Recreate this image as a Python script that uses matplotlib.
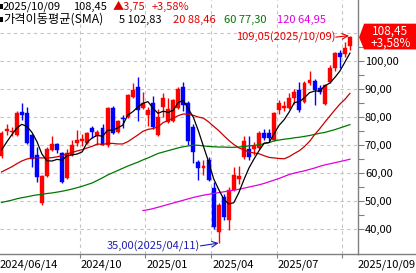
import matplotlib
matplotlib.use('Agg')
import matplotlib.pyplot as plt
from matplotlib.patches import Rectangle, Polygon
from matplotlib.lines import Line2D
import matplotlib.transforms as mtransforms
import numpy as np
import pandas as pd

plt.rcParams['font.family'] = ['Noto Sans CJK KR', 'DejaVu Sans']

# Weekly candles, 2024/06/14 .. 2025/10/09
opens = [66.1, 75.0, 74.5, 73.6, 81.8, 81.4, 73.6, 66.4, 49.3, 58.9,
         68.2, 70.4, 67.1, 58.2, 66.4, 70.7, 71.4, 70.7, 76.1, 73.2,
         76.1, 70.0, 83.2, 74.6, 79.6, 80.0, 87.1, 90.7, 83.2, 80.7,
         85.0, 73.6, 83.6, 78.2, 78.6, 83.2, 90.7, 85.0, 76.4, 63.9,
         61.8, 64.6, 54.6, 38.9, 51.4, 43.2, 53.9, 57.9, 65.7, 68.6,
         68.6, 68.9, 74.3, 74.3, 71.8, 82.5, 83.4, 83.2, 86.8, 89.6,
         85.4, 92.1, 92.9, 90.4, 84.6, 92.5, 97.5, 102.9, 102.5, 105.5]
highs = [75.0, 77.5, 76.5, 82.2, 85.0, 83.5, 74.0, 69.3, 59.2, 69.3,
         73.2, 70.6, 67.5, 68.5, 71.8, 75.4, 73.9, 74.6, 76.8, 75.4,
         77.5, 83.5, 83.9, 79.0, 80.7, 88.2, 92.1, 94.3, 88.9, 83.5,
         87.5, 82.9, 88.6, 86.8, 86.4, 90.7, 92.5, 85.7, 77.5, 64.6,
         64.6, 65.7, 56.8, 49.3, 52.5, 55.0, 62.1, 62.5, 73.2, 73.2,
         71.0, 75.0, 75.7, 75.7, 81.8, 86.1, 85.7, 88.6, 90.0, 92.5,
         92.9, 96.4, 93.6, 91.4, 91.8, 98.6, 103.2, 104.0, 106.8, 109.05]
lows = [65.5, 73.5, 73.2, 73.2, 78.9, 70.4, 62.1, 56.8, 48.6, 58.5,
        68.0, 67.1, 56.5, 58.0, 66.0, 69.6, 69.6, 70.4, 72.5, 70.0,
        70.0, 69.3, 74.0, 74.3, 76.1, 79.6, 86.8, 78.6, 82.9, 76.8,
        75.7, 73.2, 80.0, 78.0, 78.2, 82.9, 82.0, 70.0, 63.6, 57.5,
        59.3, 57.1, 40.0, 35.0, 43.2, 39.6, 53.6, 56.0, 65.0, 64.6,
        66.4, 68.6, 71.8, 71.4, 71.4, 81.1, 82.2, 82.9, 84.6, 81.8,
        85.0, 91.4, 84.3, 88.2, 84.3, 92.1, 96.4, 97.5, 101.4, 104.0]
closes = [74.3, 75.6, 75.2, 81.4, 80.7, 70.7, 65.0, 58.6, 58.9, 68.6,
          70.4, 68.2, 56.8, 67.1, 70.0, 71.8, 72.1, 74.3, 74.6, 74.6,
          70.0, 83.2, 74.3, 78.6, 79.3, 87.9, 89.6, 82.5, 85.0, 82.5,
          76.4, 80.0, 86.8, 82.9, 86.1, 90.0, 84.3, 71.4, 67.5, 61.8,
          62.5, 57.5, 40.7, 48.6, 44.3, 53.9, 59.3, 58.9, 71.4, 65.7,
          69.6, 74.3, 72.5, 72.5, 81.4, 85.0, 84.0, 86.8, 89.0, 82.5,
          92.1, 93.2, 89.6, 89.0, 91.4, 97.5, 102.9, 101.4, 104.7, 108.45]

# moving average lines
sma5 = [68.2, 71.0, 73.6, 76.0, 77.4, 76.7, 74.6, 71.3, 66.8, 64.4,
        64.3, 64.9, 64.6, 66.2, 66.5, 66.8, 67.6, 71.1, 72.6, 73.5,
        73.1, 75.3, 75.3, 76.1, 77.1, 80.7, 81.9, 83.6, 84.9, 85.5,
        83.2, 81.3, 82.1, 81.7, 82.4, 85.2, 86.0, 82.9, 79.9, 75.0,
        69.5, 64.1, 58.0, 54.2, 50.7, 49.0, 49.4, 53.0, 57.6, 61.8,
        65.0, 68.0, 70.7, 70.9, 74.1, 77.1, 79.1, 81.9, 85.2, 85.5,
        86.9, 88.7, 89.3, 89.3, 91.1, 92.1, 94.1, 96.4, 99.6, 102.83]
sma20 = [60.4, 61.3, 62.2, 63.3, 64.3, 65.0, 65.4, 65.5, 65.4, 65.4,
         65.5, 65.8, 66.2, 66.8, 67.4, 67.9, 68.4, 69.0, 69.6, 70.4,
         70.2, 70.6, 70.6, 70.4, 70.4, 71.2, 72.4, 73.6, 74.9, 75.6,
         75.9, 76.5, 78.0, 78.8, 79.6, 80.5, 81.1, 81.0, 80.6, 80.0,
         79.6, 78.3, 76.7, 75.2, 73.4, 71.7, 70.2, 69.0, 68.3, 67.5,
         67.2, 66.9, 66.2, 65.6, 65.4, 65.2, 65.1, 65.9, 67.0, 68.0,
         69.5, 71.3, 73.7, 75.8, 78.1, 80.3, 82.5, 84.6, 86.3, 88.46]
sma60 = [49.5, 49.9, 50.3, 50.8, 51.2, 51.5, 51.9, 52.2, 52.4, 52.7,
         52.9, 53.2, 53.5, 53.9, 54.3, 54.8, 55.3, 55.9, 56.5, 57.4,
         58.3, 59.3, 60.1, 60.9, 61.7, 62.5, 63.2, 63.9, 64.7, 65.4,
         66.2, 67.0, 67.5, 68.0, 68.5, 69.0, 69.4, 69.7, 70.0, 69.9,
         69.7, 69.5, 69.4, 69.3, 69.3, 69.2, 69.2, 69.3, 69.5, 69.7,
         69.9, 70.1, 70.5, 70.9, 71.5, 71.8, 72.1, 72.3, 72.6, 72.8,
         73.1, 73.4, 73.8, 74.2, 74.5, 75.0, 75.5, 76.1, 76.7, 77.30]
sma120 = [np.nan] * 28 + [
    46.6, 46.9, 47.3, 47.8, 48.3, 48.8, 49.3, 49.8, 50.3, 50.8,
    51.3, 51.7, 52.1, 52.4, 52.7, 53.0, 53.3, 53.6, 53.9, 54.2,
    54.6, 55.0, 55.4, 55.8, 56.3, 56.9, 57.5, 58.1, 58.8, 59.5,
    60.0, 60.4, 60.8, 61.3, 61.8, 62.4, 62.9, 63.3, 63.7, 64.1,
    64.5, 64.95]

dates = list(pd.date_range('2024-06-14', periods=len(closes), freq='7D'))
dates[-1] = pd.Timestamp('2025-10-09')

UP, DOWN = '#ff0000', '#0000ff'
MA_COLORS = {5: '#000000', 20: '#c80000', 60: '#007800', 120: '#e000e0'}
GRID = '#c4c4c4'
FS = 8


def comma(v):
    return f"{v:.2f}".replace('.', ',')


fig = plt.figure(figsize=(4.16, 2.73), dpi=100)
ax = fig.add_axes([0, 19 / 273, 358 / 416, 254 / 273])

x = np.arange(len(closes))
ax.set_xlim(-0.3, 70.6)
ax.set_ylim(31.1, 121.8)

# candles
for i in x:
    o, h, l, c = opens[i], highs[i], lows[i], closes[i]
    col = UP if c >= o else DOWN
    ax.vlines(i, l, h, color=col, lw=1, zorder=3)
    bottom = min(o, c)
    height = max(abs(c - o), 0.35)
    ax.add_patch(Rectangle((i - 0.39, bottom), 0.78, height,
                           facecolor=col, edgecolor=col, lw=0.3, zorder=3))

# moving averages
for n, vals in [(120, sma120), (60, sma60), (20, sma20), (5, sma5)]:
    ax.plot(x, vals, color=MA_COLORS[n], lw=0.9, zorder=4)

# quarter gridlines (first week of Jan/Apr/Jul/Oct), skipping one too close to the start label
quarter_idx = [i for i in range(8, len(dates))
               if dates[i].month != dates[i - 1].month and dates[i].month in (1, 4, 7, 10)]
quarter_pos = [i - 0.5 for i in quarter_idx]
quarter_lbl = [dates[i].strftime('%Y/%m') for i in quarter_idx]
quarter_lbl[-1] = ''  # would run into the last date label

for p in quarter_pos:
    ax.axvline(p, color=GRID, lw=0.8, ls=(0, (3, 3)), zorder=1)
for lv in range(40, 120, 10):
    ax.axhline(lv, color=GRID, lw=0.8, ls=(0, (3, 3)), zorder=1)

ax.set_xticks(quarter_pos)
ax.set_xticklabels(quarter_lbl, fontsize=FS, ha='left')
ax.tick_params(axis='x', length=3, width=0.8, color='#808080', pad=1)
for lab in ax.get_xticklabels():
    lab.set_transform(lab.get_transform() + mtransforms.ScaledTranslation(1 / 100, 0, fig.dpi_scale_trans))
fig.text(0, 1 - 265 / 273, dates[0].strftime('%Y/%m/%d'), fontsize=FS, va='center', ha='left')
fig.text(1.0, 1 - 265 / 273, dates[-1].strftime('%Y/%m/%d'), fontsize=FS, va='center', ha='right')

# price axis on the right
ax.yaxis.tick_right()
ax.set_yticks(range(40, 101, 10))
ax.set_yticklabels([comma(v) for v in range(40, 101, 10)], fontsize=FS)
ax.set_yticks(range(45, 106, 10), minor=True)
ax.tick_params(axis='y', which='both', length=4, width=0.8, color='#808080', pad=1)

for s in ['top', 'left']:
    ax.spines[s].set_visible(False)
for s in ['right', 'bottom']:
    ax.spines[s].set_color('#808080')
    ax.spines[s].set_linewidth(1)
fig.add_artist(Line2D([358 / 416, 1], [19 / 273, 19 / 273], color='#808080', lw=1))

# high / low markers
hi = int(np.argmax(highs))
lo = int(np.argmin(lows))
ax.annotate('', xy=(hi - 0.2, highs[hi]), xytext=(hi - 2.8, highs[hi] - 0.5),
            arrowprops=dict(arrowstyle='->', color='#e00000', lw=0.8, shrinkA=0, shrinkB=0))
ax.text(hi - 2.9, highs[hi] - 0.6, f"{comma(highs[hi])}({dates[hi].strftime('%Y/%m/%d')})",
        color='#e00000', fontsize=FS, ha='right', va='center')
ax.annotate('', xy=(lo, lows[lo]), xytext=(lo - 3.6, lows[lo] - 1.0),
            arrowprops=dict(arrowstyle='->', color='#2020b0', lw=0.8, shrinkA=0, shrinkB=0))
ax.text(lo - 3.7, lows[lo] - 1.0, f"{comma(lows[lo])}({dates[lo].strftime('%Y/%m/%d')})",
        color='#2020b0', fontsize=FS, ha='right', va='center')

# current price box
last = closes[-1]
chg = closes[-1] - closes[-2]
pct = chg / closes[-2] * 100
trans = mtransforms.blended_transform_factory(ax.transAxes, ax.transData)
box = Polygon([(1.003, last), (1.017, last + 4.9), (1.162, last + 4.9),
               (1.162, last - 4.3), (1.017, last - 4.3)],
              closed=True, transform=trans, facecolor='#ff0000', edgecolor='none', clip_on=False, zorder=5)
ax.add_patch(box)
ax.text(1.09, last + 2.4, comma(last), transform=trans, color='white', fontsize=FS + 0.5,
        ha='center', va='center', zorder=6)
ax.text(1.09, last - 2.2, f"+{comma(pct)}%", transform=trans, color='white', fontsize=FS + 0.5,
        ha='center', va='center', zorder=6)

# header
y1, y2 = 1 - 6.5 / 273, 1 - 19.5 / 273
for yy in (y1, y2):
    fig.add_artist(Rectangle((0, yy - 2.5 / 273), 2.5 / 416, 5 / 273, transform=fig.transFigure,
                             facecolor='black', edgecolor='none'))
fig.text(3 / 416, y1, dates[-1].strftime('%Y/%m/%d'), fontsize=FS, va='center')
fig.text(73 / 416, y1, comma(last), fontsize=FS, va='center')
fig.text(113 / 416, y1, f"▲{comma(chg)}", fontsize=FS, va='center', color='#e00000')
fig.text(152 / 416, y1, f"+{comma(pct)}%", fontsize=FS, va='center', color='#e00000')
fig.text(3 / 416, y2, "가격이동평균(SMA)", fontsize=FS + 0.8, va='center')
fig.text(119 / 416, y2, f"5 {comma(sma5[-1])}", fontsize=FS, va='center')
fig.text(173 / 416, y2, f"20 {comma(sma20[-1])}", fontsize=FS, va='center', color='#e00000')
fig.text(224 / 416, y2, f"60 {comma(sma60[-1])}", fontsize=FS, va='center', color='#007800')
fig.text(277 / 416, y2, f"120 {comma(sma120[-1])}", fontsize=FS, va='center', color='#e000e0')

fig.savefig('out.png', dpi=100)
